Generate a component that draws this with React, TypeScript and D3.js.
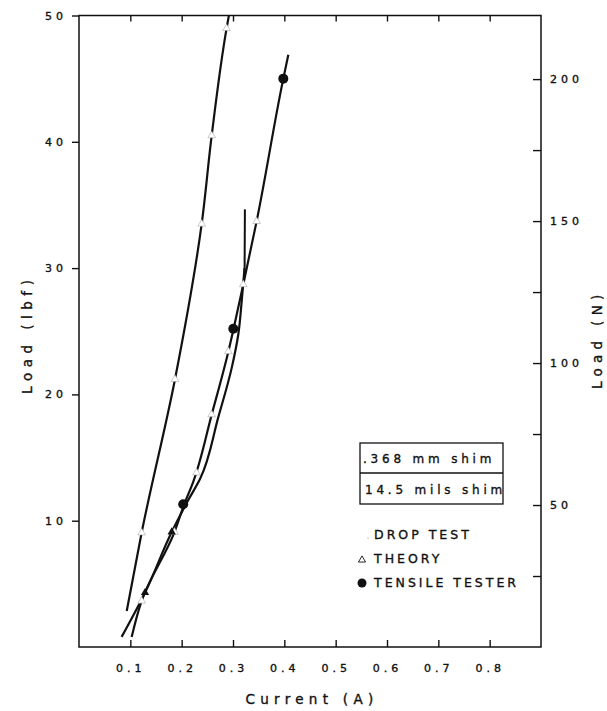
import React, { useEffect, useRef } from 'react';
import * as d3 from 'd3';

type Pt = [number, number];

// axis ticks
const currentTicks = [0.1, 0.2, 0.3, 0.4, 0.5, 0.6, 0.7, 0.8];
const lbfTicks = [10, 20, 30, 40, 50];
const newtonTicks = [25, 50, 75, 100, 125, 150, 175, 200];
const newtonLabels = [50, 100, 150, 200];
const LBF_TO_N = 4.448;

// curves (current A, load lbf)
const leftCurve: Pt[] = [
    [0.093, 2.85], [0.122, 9.05], [0.187, 21.2],
    [0.239, 33.5], [0.2585, 40.5], [0.2875, 48.98], [0.292, 50]
];
const theoryCurve: Pt[] = [
    [0.1026, 0.8], [0.122, 3.65], [0.186, 9.1], [0.205, 11.3], [0.2227, 13.1],
    [0.2585, 18.4], [0.291, 23.4], [0.3006, 25.1], [0.32, 28.7], [0.346, 33.7],
    [0.398, 45.0], [0.4078, 46.9]
];
const dropCurve: Pt[] = [
    [0.083, 0.8], [0.1286, 4.3], [0.1806, 9.1], [0.211, 11.5], [0.2357, 13.3],
    [0.2714, 18.2], [0.2975, 22.1], [0.3105, 24.8], [0.317, 27.4], [0.3225, 30.0]
];
const dropSpike: Pt[] = [[0.3225, 29.4], [0.3232, 34.65]];

// markers
const leftTheoryMarks: Pt[] = [[0.122, 9.05], [0.187, 21.2], [0.239, 33.5], [0.2585, 40.5], [0.2875, 48.98]];
const theoryMarks: Pt[] = [[0.122, 3.65], [0.186, 9.1], [0.229, 13.8], [0.2585, 18.4], [0.291, 23.4], [0.32, 28.7], [0.346, 33.7]];
const dropMarks: Pt[] = [[0.1286, 4.3], [0.1806, 9.1]];
const tensileMarks: Pt[] = [[0.203, 11.3], [0.3006, 25.2], [0.398, 45.0]];

const shimLabels = ['.368 mm shim', '14.5 mils shim'];
const legendLabels = ['DROP TEST', 'THEORY', 'TENSILE TESTER'];

const FONT = 'DejaVu Sans, Verdana, sans-serif';
const INK = '#111';

const LoadCurrentChart = () => {
    const svgRef = useRef<SVGSVGElement>(null);

    useEffect(() => {
        const width = 607;
        const height = 711;
        const margin = { top: 15.5, right: 66, bottom: 64, left: 79 };
        const innerW = width - margin.left - margin.right;
        const innerH = height - margin.top - margin.bottom;

        const root = d3.select(svgRef.current);
        root.selectAll('*').remove();
        root.attr('width', width).attr('height', height);

        root.append('rect').attr('width', width).attr('height', height).attr('fill', '#fff');

        const svg = root.append('g').attr('transform', `translate(${margin.left}, ${margin.top})`);

        const x = d3.scaleLinear().domain([0, 0.9]).range([0, innerW]);
        const y = d3.scaleLinear().domain([0, 50]).range([innerH, 0]);
        const yN = d3.scaleLinear().domain([0, 50 * LBF_TO_N]).range([innerH, 0]);

        // scanned-type look: slightly heavy glyphs, wide tracking
        const ink = (t: d3.Selection<any, any, any, any>, size: number, spacing: number) =>
            t.attr('fill', INK)
                .attr('stroke', INK)
                .attr('stroke-width', 0.35)
                .style('font-family', FONT)
                .style('font-size', `${size}px`)
                .style('letter-spacing', `${spacing}px`);

        const styleAxis = (g: d3.Selection<SVGGElement, unknown, null, undefined>) => {
            g.select('.domain').remove();
            g.selectAll('line').attr('stroke', INK).attr('stroke-width', 1.4);
            ink(g.selectAll('text'), 11, 4);
        };

        svg.append('g')
            .call(d3.axisLeft(y).tickValues(lbfTicks).tickSize(7).tickPadding(5).tickFormat(d3.format('d')))
            .call(styleAxis);

        svg.append('g')
            .attr('transform', `translate(0, ${innerH})`)
            .call(d3.axisBottom(x).tickValues(currentTicks).tickSizeInner(-7).tickSizeOuter(0).tickPadding(17).tickFormat(d3.format('.1f')))
            .call(styleAxis);

        svg.append('g')
            .call(d3.axisTop(x).tickValues(currentTicks).tickSizeInner(-6).tickSizeOuter(0).tickFormat(() => ''))
            .call(styleAxis);

        svg.append('g')
            .attr('transform', `translate(${innerW}, 0)`)
            .call(
                d3.axisRight(yN)
                    .tickValues(newtonTicks)
                    .tickSizeInner(-8)
                    .tickSizeOuter(0)
                    .tickPadding(9)
                    .tickFormat(d => (newtonLabels.includes(+d) ? String(d) : ''))
            )
            .call(styleAxis);

        // frame
        svg.append('rect')
            .attr('width', innerW)
            .attr('height', innerH)
            .attr('fill', 'none')
            .attr('stroke', INK)
            .attr('stroke-width', 1.5);

        const line = d3.line<Pt>().x(d => x(d[0])).y(d => y(d[1])).curve(d3.curveMonotoneY);

        [leftCurve, theoryCurve, dropCurve].forEach(pts => {
            svg.append('path')
                .attr('d', line(pts))
                .attr('fill', 'none')
                .attr('stroke', INK)
                .attr('stroke-width', 2.2);
        });
        svg.append('path')
            .attr('d', d3.line<Pt>().x(d => x(d[0])).y(d => y(d[1]))(dropSpike))
            .attr('fill', 'none')
            .attr('stroke', INK)
            .attr('stroke-width', 2);

        const tri = d3.symbol().type(d3.symbolTriangle);

        svg.selectAll('.theory')
            .data([...leftTheoryMarks, ...theoryMarks])
            .enter()
            .append('path')
            .attr('class', 'theory')
            .attr('transform', d => `translate(${x(d[0])}, ${y(d[1])})`)
            .attr('d', tri.size(26)())
            .attr('fill', '#fff')
            .attr('stroke', '#999')
            .attr('stroke-width', 0.5);

        svg.selectAll('.drop')
            .data(dropMarks)
            .enter()
            .append('path')
            .attr('class', 'drop')
            .attr('transform', d => `translate(${x(d[0])}, ${y(d[1])})`)
            .attr('d', tri.size(30)())
            .attr('fill', INK);

        svg.selectAll('.tensile')
            .data(tensileMarks)
            .enter()
            .append('circle')
            .attr('class', 'tensile')
            .attr('cx', d => x(d[0]))
            .attr('cy', d => y(d[1]))
            .attr('r', 5)
            .attr('fill', INK);

        // shim box
        const box = root.append('g').attr('transform', 'translate(360, 443)');
        box.append('rect')
            .attr('width', 143)
            .attr('height', 61)
            .attr('fill', '#fff')
            .attr('stroke', INK)
            .attr('stroke-width', 1.3);
        box.append('line')
            .attr('x1', 0).attr('x2', 143)
            .attr('y1', 30).attr('y2', 30)
            .attr('stroke', INK)
            .attr('stroke-width', 1.3);
        box.selectAll('text')
            .data(shimLabels)
            .enter()
            .append('text')
            .attr('x', (d, i) => 3 + i * 2)
            .attr('y', (d, i) => 20 + i * 31)
            .call(t => ink(t, 12, 3.8))
            .text(d => d);

        // marker legend
        const legend = root.append('g').attr('transform', 'translate(362, 539)');
        legendLabels.forEach((label, i) => {
            const row = legend.append('g').attr('transform', `translate(0, ${i * 24})`);
            if (i === 0) {
                row.append('circle').attr('cx', 6).attr('cy', -1).attr('r', 0.8).attr('fill', '#bbb');
            } else if (i === 1) {
                row.append('path')
                    .attr('transform', 'translate(0, -3)')
                    .attr('d', d3.symbol().type(d3.symbolTriangle).size(22)())
                    .attr('fill', '#fff')
                    .attr('stroke', INK)
                    .attr('stroke-width', 0.9);
            } else {
                row.append('circle').attr('cx', 0).attr('cy', -4).attr('r', 4.5).attr('fill', INK);
            }
            row.append('text')
                .attr('x', 12)
                .attr('y', 0)
                .call(t => ink(t, 12.5, 3))
                .text(label);
        });

        // axis titles
        root.append('text')
            .attr('x', margin.left + innerW / 2 + 2)
            .attr('y', 704)
            .attr('text-anchor', 'middle')
            .call(t => ink(t, 13.5, 5.3))
            .text('Current (A)');

        root.append('text')
            .attr('transform', `translate(32, ${margin.top + innerH / 2 + 3}) rotate(-90)`)
            .attr('text-anchor', 'middle')
            .call(t => ink(t, 13.5, 5.5))
            .text('Load (lbf)');

        root.append('text')
            .attr('transform', `translate(602, ${margin.top + innerH / 2 + 8}) rotate(-90)`)
            .attr('text-anchor', 'middle')
            .call(t => ink(t, 13.5, 5.3))
            .text('Load (N)');
    }, []);

    return <svg ref={svgRef} style={{ position: 'absolute', left: 0, top: 0 }}></svg>;
};

export default function App() {
    return <LoadCurrentChart />;
}
